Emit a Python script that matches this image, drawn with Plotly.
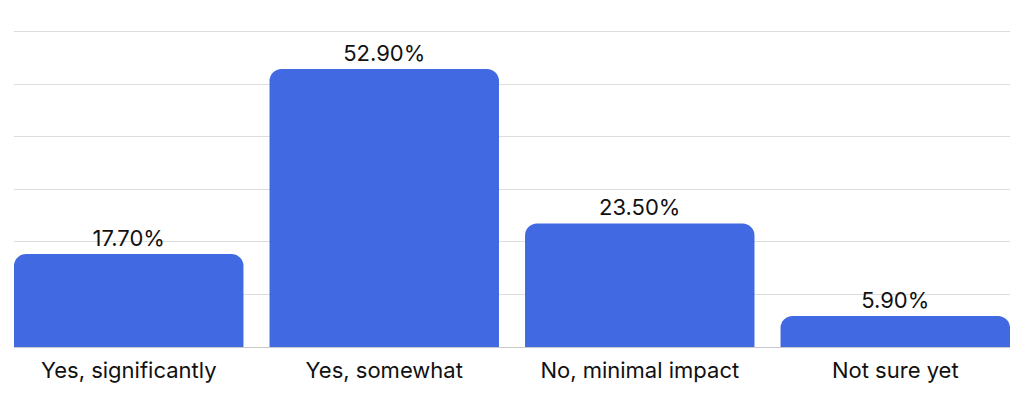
import plotly.graph_objects as go

categories = ["Yes, significantly", "Yes, somewhat", "No, minimal impact", "Not sure yet"]
values = [17.7, 52.9, 23.5, 5.9]

fig = go.Figure(go.Bar(
    x=categories,
    y=values,
    marker=dict(color="#4169E1", cornerradius=12, line=dict(width=0)),
    texttemplate="%{y:.2f}%",
    textposition="outside",
    textfont=dict(family="Inter", size=22, color="#111111"),
    cliponaxis=False,
))

fig.update_layout(
    width=1024, height=394,
    margin=dict(l=14, r=14, t=30, b=47),
    paper_bgcolor="white", plot_bgcolor="white",
    bargap=0.102,
    showlegend=False,
    font=dict(family="Inter", size=22, color="#111111"),
    xaxis=dict(range=[-0.449, 3.449], showgrid=False, showline=False,
               ticks="", ticklabelstandoff=8,
               tickfont=dict(family="Inter", size=22, color="#111111")),
    yaxis=dict(range=[0, 60.3], dtick=10, showticklabels=False, showgrid=True,
               gridcolor="#dddddd", gridwidth=1, zeroline=True,
               zerolinecolor="#c8c8c8", zerolinewidth=1, showline=False),
)

fig.write_html("out.html")
